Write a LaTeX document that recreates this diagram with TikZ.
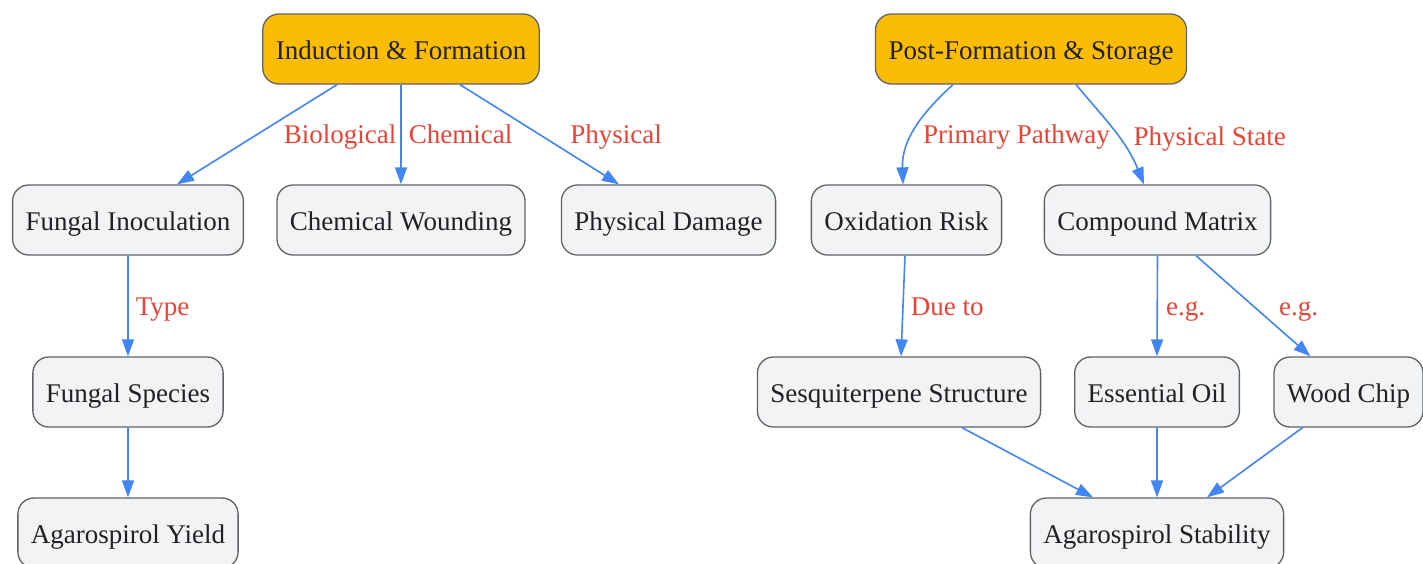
\documentclass[tikz,border=0pt]{standalone}
\usepackage{fontspec}
\setmainfont{Liberation Serif}
\usepackage{xcolor}
\usepackage{tikz}
\usetikzlibrary{arrows.meta}
\usetikzlibrary{calc}
\usetikzlibrary{positioning}
\definecolor{boxfill}{HTML}{F1F3F4}
\definecolor{boxline}{HTML}{5F6368}
\definecolor{boxtext}{HTML}{202124}
\definecolor{headfill}{HTML}{FBBC05}
\definecolor{linkblue}{HTML}{4285F4}
\definecolor{lblred}{HTML}{EA4335}

\begin{document}
\begin{tikzpicture}[x=1pt,y=-1pt,>={Triangle[length=17pt,width=12pt]},auto,semithick]
						\tikzstyle{vert}=[draw=boxline, fill=boxfill, rounded corners=16pt, line width=1.3pt, minimum height=70pt, inner xsep=13pt, text height=24pt, text depth=4pt, text=boxtext, font=\fontsize{27}{32}\selectfont]
						\tikzstyle{head}=[vert, fill=headfill]
						\tikzstyle{link}=[->, draw=linkblue, line width=1.6pt]
						\tikzstyle{lbl}=[text=lblred, anchor=west, inner sep=0pt, text height=22pt, text depth=4pt, font=\fontsize{27}{32}\selectfont]
						\useasboundingbox (0,0) rectangle (1423,563);
						% induction side
						\node[head] 		(I) at (401,49)         {Induction \& Formation};
 					 	\node[vert] 		(FI) at (128,220)       {Fungal Inoculation};
 					 	\node[vert] 		(CW) at (401,220)       {Chemical Wounding};
 					 	\node[vert] 		(PD) at (668.5,220)     {Physical Damage};
 					 	\node[vert] 		(FS) at (128,392)       {Fungal Species};
 					 	\node[vert] 		(AY) at (128,533)       {Agarospirol Yield};
						% storage side
						\node[head] 		(P) at (1031,49)        {Post-Formation \& Storage};
 					 	\node[vert] 		(OR) at (906.5,220)     {Oxidation Risk};
 					 	\node[vert] 		(CM) at (1157.5,220)    {Compound Matrix};
 					 	\node[vert] 		(SS) at (899,392)       {Sesquiterpene Structure};
 					 	\node[vert] 		(EO) at (1157,392)      {Essential Oil};
 					 	\node[vert] 		(WC) at (1348.5,392)    {Wood Chip};
 					 	\node[vert] 		(AS) at (1157,533)      {Agarospirol Stability};
 				  \path
					 ([xshift=-64pt]I.south) edge[link] node[lbl, pos=.5, xshift=26pt] {Biological} ([xshift=49pt]FI.north)
			 		 (I.south) edge[link] node[lbl, pos=.5, xshift=7pt] {Chemical} (CW.north)
					 ([xshift=59pt]I.south) edge[link] node[lbl, pos=.5, xshift=30pt] {Physical} ([xshift=-49.5pt]PD.north)
					 (FI.south) edge[link] node[lbl, pos=.5, xshift=7pt] {Type} (FS.north)
					 (FS.south) edge[link] (AY.north)
					 ([xshift=-78pt]P.south) edge[link, out=-138, in=92] node[lbl, pos=.5, xshift=7pt, yshift=-5pt] {Primary Pathway} ([xshift=-3.5pt]OR.north)
					 ([xshift=45pt]P.south) edge[link, out=-50, in=112] node[lbl, pos=.5, xshift=18pt, yshift=-5pt] {Physical State} ([xshift=-13.5pt]CM.north)
					 ([xshift=-1.5pt]OR.south) edge[link] node[lbl, pos=.5, xshift=7pt] {Due to} ([xshift=2pt]SS.north)
					 (CM.south) edge[link] node[lbl, pos=.5, xshift=8pt] {e.g.} (EO.north)
					 ([xshift=38.5pt]CM.south) edge[link] node[lbl, pos=.5, xshift=25pt] {e.g.} ([xshift=-38pt]WC.north)
					 ([xshift=63pt]SS.south) edge[link] ([xshift=-64pt]AS.north)
					 (EO.south) edge[link] (AS.north)
					 ([xshift=-46pt]WC.south) edge[link] ([xshift=50pt]AS.north);
				\end{tikzpicture}
\end{document}
